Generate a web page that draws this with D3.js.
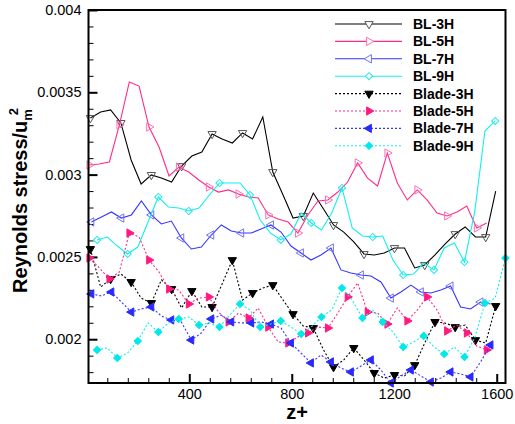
<!DOCTYPE html>
<html><head><meta charset="utf-8">
<script src="https://cdn.jsdelivr.net/npm/d3@7"></script>
<style>body{margin:0;background:#fff}svg{display:block}</style>
</head><body>
<svg id="c" width="515" height="424"></svg>
<script>
// z+ sample positions for each data set
const z3 = [14,54,93,133,173,212,252,291,331,370,410,449,489,528,568,608,647,687,726,766,805,845,884,924,963,1003,1042,1082,1122,1161,1201,1240,1280,1319,1359,1398,1438,1477,1517,1557,1596];
const z5 = [10,49,88,127,166,204,243,282,321,359,398,437,476,514,553,592,631,669,708,747,786,824,863,902,941,980,1018,1057,1096,1135,1173,1212,1251,1290,1328,1367,1406,1445,1483,1522,1561];
const z7 = [18,57,96,135,174,213,252,291,330,369,408,447,486,525,564,603,642,680,719,758,797,836,875,914,953,992,1031,1070,1109,1148,1187,1226,1265,1304,1343,1382,1420,1459,1498,1537,1576];
const z9 = [40,80,119,159,199,239,279,319,359,398,438,478,518,558,598,637,677,717,757,797,837,876,916,956,996,1036,1076,1116,1155,1195,1235,1275,1315,1355,1395,1435,1474,1514,1554,1594,1634];

const bl3H = [0.003344,0.003380,0.003393,0.003314,0.003089,0.002943,0.002998,0.002979,0.002955,0.003052,0.003113,0.003137,0.003247,0.003216,0.003192,0.003253,0.003216,0.003350,0.003016,0.002876,0.002736,0.002749,0.002888,0.002791,0.002694,0.002651,0.002591,0.002518,0.002512,0.002524,0.002554,0.002554,0.002433,0.002451,0.002512,0.002578,0.002639,0.002682,0.002621,0.002621,0.002900];
const bl5H = [0.003058,0.003064,0.003077,0.003301,0.003563,0.003538,0.003289,0.003168,0.002992,0.003046,0.003016,0.002967,0.002925,0.002894,0.002907,0.002882,0.002864,0.002858,0.002755,0.002730,0.002712,0.002645,0.002755,0.002840,0.002846,0.002894,0.002955,0.003071,0.002979,0.002931,0.003131,0.002949,0.002846,0.002907,0.002846,0.002767,0.002749,0.002773,0.002809,0.002676,0.002706];
const bl7H = [0.002712,0.002743,0.002773,0.002736,0.002755,0.002840,0.002755,0.002700,0.002718,0.002615,0.002548,0.002560,0.002633,0.002694,0.002657,0.002645,0.002645,0.002670,0.002694,0.002651,0.002566,0.002524,0.002481,0.002512,0.002554,0.002421,0.002402,0.002390,0.002384,0.002348,0.002250,0.002287,0.002329,0.002287,0.002281,0.002299,0.002323,0.002196,0.002184,0.002226,0.002214];
const bl9H = [0.002603,0.002621,0.002566,0.002518,0.002560,0.002712,0.002864,0.002803,0.002797,0.002779,0.002797,0.002876,0.002949,0.002949,0.002949,0.002876,0.002724,0.002645,0.002603,0.002639,0.002767,0.002706,0.002664,0.002767,0.002919,0.002676,0.002627,0.002621,0.002627,0.002481,0.002390,0.002396,0.002463,0.002421,0.002554,0.002585,0.002469,0.002773,0.003265,0.003326];
const blade3H = [0.002548,0.002317,0.002366,0.002396,0.002348,0.002250,0.002220,0.002360,0.002305,0.002190,0.002293,0.002196,0.002196,0.002335,0.002481,0.002238,0.002281,0.002311,0.002329,0.002238,0.002153,0.002080,0.002068,0.001935,0.001831,0.001874,0.001947,0.001874,0.001795,0.001764,0.001783,0.001777,0.001843,0.001977,0.002105,0.002099,0.002074,0.002086,0.001995,0.001977,0.002202];
const blade5H = [0.002493,0.002433,0.002366,0.002408,0.002645,0.002621,0.002481,0.002408,0.002305,0.002299,0.002214,0.002250,0.002257,0.002165,0.002105,0.002159,0.002129,0.002190,0.002074,0.001983,0.001977,0.002014,0.002038,0.002074,0.002068,0.002159,0.002257,0.002342,0.002165,0.002159,0.002092,0.002190,0.002111,0.002178,0.002257,0.002178,0.002050,0.002086,0.002038,0.001959,0.001935];
const blade7H = [0.002275,0.002263,0.002287,0.002226,0.002165,0.002184,0.002196,0.002141,0.002117,0.002105,0.001995,0.002038,0.002123,0.002147,0.002105,0.002099,0.002099,0.002105,0.002092,0.002068,0.001977,0.001916,0.001856,0.001904,0.001862,0.001825,0.001801,0.001837,0.001874,0.001813,0.001734,0.001777,0.001813,0.001777,0.001740,0.001764,0.001801,0.001789,0.001771,0.001862,0.001965];
const blade9H = [0.001935,0.001947,0.001886,0.001916,0.001989,0.002099,0.002044,0.002099,0.002123,0.002135,0.002086,0.002099,0.002074,0.002147,0.002214,0.002178,0.002074,0.002092,0.002111,0.002074,0.002032,0.002074,0.002135,0.002178,0.002311,0.002238,0.002129,0.002178,0.002105,0.002044,0.001953,0.001983,0.002020,0.001953,0.001910,0.001953,0.001892,0.002007,0.002220,0.002250,0.002493];

const seriesNames = ["BL-3H","BL-5H","BL-7H","BL-9H","Blade-3H","Blade-5H","Blade-7H","Blade-9H"];
const xTicks = [400,800,1200,1600];
const xTickLabels = ["400","800","1200","1600"];
const yTicks = [0.002,0.0025,0.003,0.0035,0.004];
const yTickLabels = ["0.002","0.0025","0.003","0.0035","0.004"];
const xLabel = "z+";

// styles
const styles = [
  {z:z3, v:bl3H, color:"#000", mcolor:"#555", shape:"down", filled:false, dash:null, every:3},
  {z:z5, v:bl5H, color:"#ff2b8a", mcolor:"#ff6fb0", shape:"right", filled:false, dash:null, every:3},
  {z:z7, v:bl7H, color:"#3535ff", mcolor:"#7070ff", shape:"left", filled:false, dash:null, every:3},
  {z:z9, v:bl9H, color:"#10f0f0", mcolor:"#20e8e8", shape:"diamond", filled:false, dash:null, every:3},
  {z:z3, v:blade3H, color:"#000", mcolor:"#000", shape:"down", filled:true, dash:"2,2", every:2},
  {z:z5, v:blade5H, color:"#ff2b8a", mcolor:"#ff1a80", shape:"right", filled:true, dash:"2,2", every:2},
  {z:z7, v:blade7H, color:"#3535ff", mcolor:"#2a2aff", shape:"left", filled:true, dash:"2,2", every:2},
  {z:z9, v:blade9H, color:"#10f0f0", mcolor:"#00e8e8", shape:"diamond", filled:true, dash:"2,2", every:2}
];

const L=88.5, R=505.5, T=10, B=383;
const svg = d3.select("#c");
svg.append("rect").attr("width",515).attr("height",424).attr("fill","#fff");

const x = d3.scaleLinear().domain([6.6,1634.3]).range([L,R]);
const y = d3.scaleLinear().domain([0.001734,0.004]).range([B,T]);

svg.append("defs").append("clipPath").attr("id","clip")
  .append("rect").attr("x",L).attr("y",T).attr("width",R-L).attr("height",B-T);

const font = "'Liberation Sans', Arial, Helvetica, sans-serif";

// minor ticks
const yMinor = d3.range(18,40).map(d=>d/10000).filter(d=>!yTicks.some(t=>Math.abs(t-d)<1e-9));
const xMinor = d3.range(80,1634,80).filter(d=>!xTicks.includes(d));

const gyMinor = svg.append("g").attr("transform",`translate(${L},0)`)
  .call(d3.axisLeft(y).tickValues(yMinor).tickSize(-5).tickFormat(""));
const gxMinor = svg.append("g").attr("transform",`translate(0,${B})`)
  .call(d3.axisBottom(x).tickValues(xMinor).tickSize(-5).tickFormat(""));
[gyMinor,gxMinor].forEach(g=>{g.select(".domain").remove(); g.selectAll("line").attr("stroke","#000").attr("stroke-width",1);});

const gy = svg.append("g").attr("transform",`translate(${L},0)`)
  .call(d3.axisLeft(y).tickValues(yTicks).tickSize(-9).tickPadding(7).tickFormat((d,i)=>yTickLabels[i]));
const gx = svg.append("g").attr("transform",`translate(0,${B})`)
  .call(d3.axisBottom(x).tickValues(xTicks).tickSize(-9).tickPadding(6).tickFormat((d,i)=>xTickLabels[i]));
[gy,gx].forEach(g=>{
  g.select(".domain").remove();
  g.selectAll("line").attr("stroke","#000").attr("stroke-width",2);
  g.selectAll("text").attr("font-family",font).attr("font-size","14.5px").attr("fill","#000");
});

// data
const line = d3.line().x(d=>x(d[0])).y(d=>y(d[1]));
const shapes = {
  down: d3.symbol(d3.symbolTriangle,30)(),
  right: d3.symbol(d3.symbolTriangle,30)(),
  left: d3.symbol(d3.symbolTriangle,30)(),
  diamond: d3.symbol(d3.symbolSquare,26)()
};
const rot = {down:180, right:90, left:-90, diamond:45};

const plot = svg.append("g");
styles.forEach(s=>{
  const pts = s.v.map((v,i)=>[s.z[i],v]);
  plot.append("path").attr("clip-path","url(#clip)").attr("d",line(pts))
    .attr("fill","none").attr("stroke",s.color).attr("stroke-width",1.1)
    .attr("stroke-dasharray",s.dash);
  plot.selectAll(null).data(pts.filter((p,i)=>i%s.every===0)).enter().append("path")
    .attr("d",shapes[s.shape])
    .attr("transform",d=>`translate(${x(d[0])},${y(d[1])}) rotate(${rot[s.shape]})`)
    .attr("fill",s.filled?s.mcolor:"none")
    .attr("stroke",s.mcolor).attr("stroke-width",1);
});

// frame
svg.append("rect").attr("x",L).attr("y",T).attr("width",R-L).attr("height",B-T)
  .attr("fill","none").attr("stroke","#000").attr("stroke-width",2);

// legend
const lg = svg.append("g");
const rowY = d3.range(8).map(i=>24+i*17.4);
styles.forEach((s,i)=>{
  const yy = rowY[i];
  lg.append("line").attr("x1",335).attr("x2",402).attr("y1",yy).attr("y2",yy)
    .attr("stroke",s.color).attr("stroke-width",1.1).attr("stroke-dasharray",s.dash);
  lg.append("path").attr("d",shapes[s.shape])
    .attr("transform",`translate(369,${yy}) rotate(${rot[s.shape]})`)
    .attr("fill",s.filled?s.mcolor:"#fff").attr("stroke",s.mcolor).attr("stroke-width",1);
  lg.append("text").attr("x",413).attr("y",yy+5).text(seriesNames[i])
    .attr("font-family",font).attr("font-size","14px").attr("font-weight","bold");
});

// axis titles
svg.append("text").attr("x",297).attr("y",419).attr("text-anchor","middle")
  .attr("font-family",font).attr("font-size","20px").attr("font-weight","bold").text(xLabel);

const yt = svg.append("text").attr("transform","translate(27,293) rotate(-90)")
  .attr("font-family",font).attr("font-size","20px").attr("font-weight","bold");
yt.append("tspan").text("Reynolds stress/u");
yt.append("tspan").attr("dy",5).attr("font-size","13px").text("m");
yt.append("tspan").attr("dx",-6).attr("dy",-14).attr("font-size","13px").text("2");
</script>
</body></html>
